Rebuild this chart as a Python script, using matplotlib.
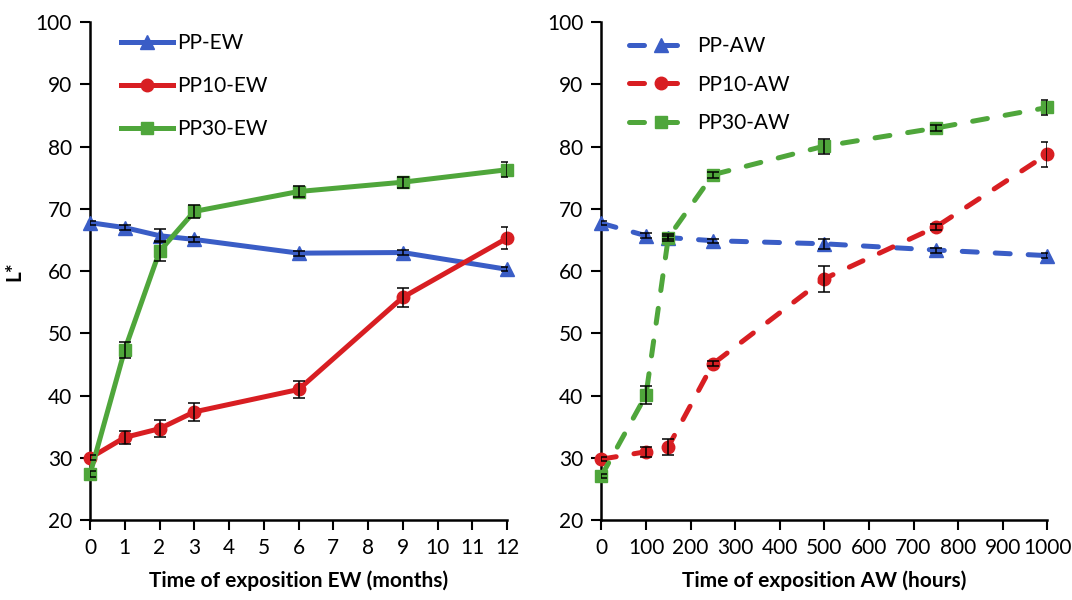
import matplotlib
matplotlib.use("Agg")
import matplotlib.pyplot as plt

plt.rcParams["font.family"] = ["Lato", "DejaVu Sans"]

# natural weathering (months)
months = [0, 1, 2, 3, 6, 9, 12]
pp_ew = [67.8, 67.0, 65.7, 65.1, 62.9, 63.0, 60.3]
pp_ew_err = [0.3, 0.4, 1.0, 0.4, 0.4, 0.4, 0.3]
pp10_ew = [30.0, 33.3, 34.7, 37.4, 41.0, 55.8, 65.3]
pp10_ew_err = [0.4, 1.1, 1.4, 1.4, 1.4, 1.5, 1.8]
pp30_ew = [27.4, 47.4, 63.2, 69.6, 72.8, 74.3, 76.3]
pp30_ew_err = [0.5, 1.3, 1.6, 1.0, 0.9, 0.9, 1.2]

# accelerated weathering (hours)
hours = [0, 100, 150, 250, 500, 750, 1000]
pp_aw = [67.7, 65.7, 65.4, 64.9, 64.4, 63.4, 62.5]
pp_aw_err = [0.3, 0.4, 0.3, 0.3, 0.8, 0.4, 0.4]
pp10_aw = [29.8, 31.0, 31.8, 45.1, 58.8, 67.1, 78.8]
pp10_aw_err = [0.3, 0.8, 1.3, 0.4, 2.1, 0.5, 2.0]
pp30_aw = [27.1, 40.1, 65.4, 75.5, 80.1, 83.0, 86.3]
pp30_aw_err = [0.4, 1.45, 0.5, 0.5, 1.2, 0.5, 1.15]

BLUE = "#3a5dc6"
RED = "#d81e22"
GREEN = "#4fa63b"
FS = 15

fig = plt.figure(figsize=(10.72, 6.0), dpi=100)
ax1 = fig.add_axes([0.084, 0.133, 0.389, 0.830])
ax2 = fig.add_axes([0.561, 0.133, 0.416, 0.830])


def draw_series(ax, x, y, err, color, marker, ms, label, dashed):
    if dashed:
        ax.plot(x, y, color=color, lw=3.6, linestyle=(0, (3.0, 3.6)),
                dash_capstyle="round", marker=marker, ms=ms,
                label=label, clip_on=False, zorder=3)
    else:
        ax.plot(x, y, color=color, lw=3.6, marker=marker, ms=ms,
                label=label, clip_on=False, zorder=3)
    ax.errorbar(x, y, yerr=err, fmt="none", ecolor="black",
                elinewidth=1.1, capsize=4, capthick=1.1, zorder=4)


def style_axes(ax, xlim, xticks, xlabel):
    ax.set_xlim(*xlim)
    ax.set_ylim(20, 100)
    ax.set_xticks(xticks)
    ax.set_yticks(range(20, 101, 10))
    for side in ("top", "right"):
        ax.spines[side].set_visible(False)
    for side in ("left", "bottom"):
        ax.spines[side].set_linewidth(1.8)
    ax.tick_params(direction="out", length=7, width=1.5, labelsize=FS, pad=6)
    ax.set_xlabel(xlabel, fontsize=FS, fontweight="bold", labelpad=9)


draw_series(ax1, months, pp_ew, pp_ew_err, BLUE, "^", 10, "PP-EW", False)
draw_series(ax1, months, pp10_ew, pp10_ew_err, RED, "o", 9, "PP10-EW", False)
draw_series(ax1, months, pp30_ew, pp30_ew_err, GREEN, "s", 9, "PP30-EW", False)
style_axes(ax1, (0, 12), range(0, 13), "Time of exposition EW (months)")
ax1.set_ylabel("L*", fontsize=FS, fontweight="bold", labelpad=8)
ax1.legend(loc="upper left", bbox_to_anchor=(0.03, 1.015), frameon=False,
           fontsize=FS, handlelength=2.5, handletextpad=0.2, labelspacing=1.1)

draw_series(ax2, hours, pp_aw, pp_aw_err, BLUE, "^", 10, "PP-AW", True)
draw_series(ax2, hours, pp10_aw, pp10_aw_err, RED, "o", 9, "PP10-AW", True)
draw_series(ax2, hours, pp30_aw, pp30_aw_err, GREEN, "s", 9, "PP30-AW", True)
style_axes(ax2, (0, 1000), range(0, 1001, 100), "Time of exposition AW (hours)")
ax2.legend(loc="upper left", bbox_to_anchor=(0.02, 1.01), frameon=False,
           fontsize=FS, handlelength=3.1, handletextpad=0.15, labelspacing=0.9)

fig.savefig("out.png", dpi=100)
